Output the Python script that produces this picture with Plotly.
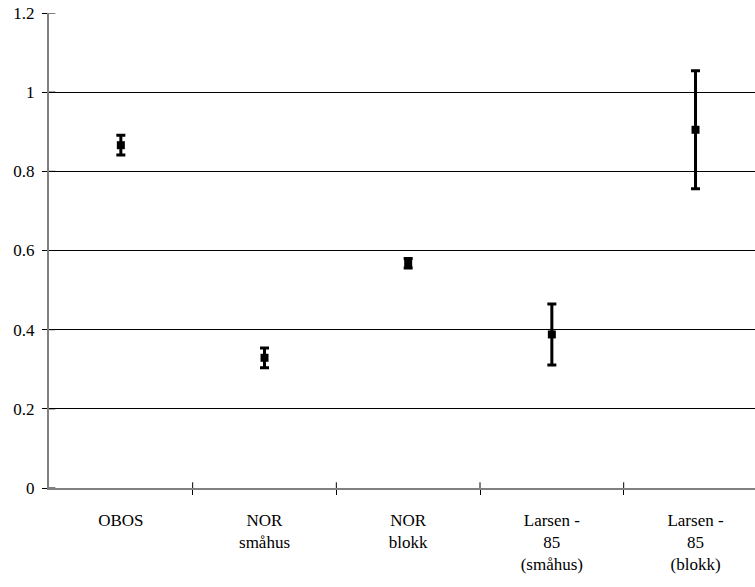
import plotly.graph_objects as go

categories = ["OBOS", "NOR<br>småhus", "NOR<br>blokk", "Larsen -<br>85<br>(småhus)", "Larsen -<br>85<br>(blokk)"]
values = [0.866, 0.329, 0.568, 0.388, 0.905]
errors = [0.025, 0.025, 0.012, 0.077, 0.149]
y_ticks = [0, 0.2, 0.4, 0.6, 0.8, 1.0, 1.2]

xpos = list(range(len(categories)))
bounds = [i + 0.5 for i in range(len(categories) - 1)]
font = dict(family="Liberation Serif, Times New Roman, serif", size=17, color="black")

fig = go.Figure()
fig.add_trace(go.Scatter(
    x=xpos, y=values, mode="markers",
    marker=dict(symbol="square", size=8, color="black"),
    error_y=dict(type="data", array=errors, visible=True, color="black", thickness=3, width=4.5),
    showlegend=False, hoverinfo="skip",
))

# inner halves of the crossing ticks
for b in bounds:
    fig.add_shape(type="line", xref="x", yref="paper", x0=b, x1=b, y0=0, y1=0.012,
                  line=dict(color="black", width=1), layer="above")
for t in y_ticks:
    fig.add_shape(type="line", xref="paper", yref="y", y0=t, y1=t, x0=0, x1=0.009,
                  line=dict(color="black", width=1), layer="above")

xr = [-0.5, 4.414]
yr = [0, 1.2]
fig.update_layout(
    width=755, height=587,
    margin=dict(l=49, r=0, t=13, b=99),
    paper_bgcolor="white", plot_bgcolor="white",
    font=font,
    xaxis=dict(range=xr, tickvals=xpos, ticktext=categories, ticks="", showgrid=False,
               zeroline=False, showline=True, linecolor="#808080", linewidth=1.5,
               minor=dict(tickvals=bounds, ticks="outside", ticklen=5, tickcolor="black", tickwidth=1),
               tickfont=font, ticklabelstandoff=16),
    yaxis=dict(range=yr, tickvals=y_ticks, ticks="outside", ticklen=5, tickcolor="black",
               showgrid=True, gridcolor="black", gridwidth=1, zeroline=False,
               showline=True, linecolor="#808080", linewidth=2, tickfont=font, ticklabelstandoff=4),
)
fig.write_html("out.html")
